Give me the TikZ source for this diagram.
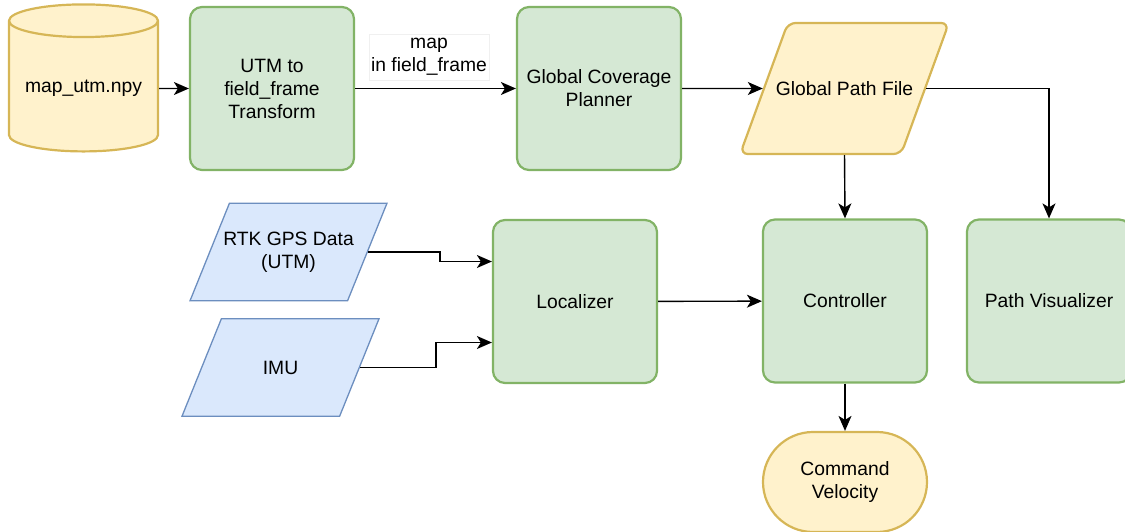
\documentclass[tikz,border=0pt]{standalone}
\usepackage{fontspec}
\setmainfont{Liberation Sans}
\usetikzlibrary{shapes,arrows.meta,positioning,calc}

\definecolor{procfill}{HTML}{D5E8D4}
\definecolor{procline}{HTML}{82B366}
\definecolor{filefill}{HTML}{FFF2CC}
\definecolor{fileline}{HTML}{D6B656}
\definecolor{datafill}{HTML}{DAE8FC}
\definecolor{dataline}{HTML}{6C8EBF}

\tikzset{
  lbl/.style={font=\fontsize{19.3}{23}\selectfont, align=center, inner sep=2pt},
  proc/.style={lbl, draw=procline, fill=procfill, line width=2.2pt,
    rounded corners=12pt, minimum width=164pt, minimum height=163pt},
  % slanted boxes: height comes from inner ysep so the angles hold
  sensor/.style={lbl, draw=dataline, fill=datafill, line width=1.3pt,
    trapezium, trapezium stretches body=true, trapezium left angle=68,
    trapezium right angle=112, minimum width=197pt},
  flow/.style={-{Stealth[length=15pt,width=13pt,inset=4pt]}, line width=1.4pt},
}

\begin{document}
\begin{tikzpicture}[x=1pt,y=-1pt]
  \useasboundingbox (0,0) rectangle (1125,532);

  % top row
  \node[lbl, draw=fileline, fill=filefill, line width=2.2pt, cylinder,
    shape border rotate=90, aspect=0.27, minimum width=149pt,
    minimum height=147pt] (maputm) at (83.5,88.5) {map\_utm.npy};
  \node[proc] (utmtf) at (272,88.5) {UTM to\\field\_frame\\Transform};
  \node[proc] (planner) at (599,88.5) {Global Coverage\\Planner};
  \node[lbl, draw=fileline, fill=filefill, line width=2.2pt, rounded corners=8pt,
    trapezium, trapezium stretches body=true, trapezium left angle=70,
    trapezium right angle=110, minimum width=208pt, inner ysep=58.5pt,
    inner xsep=-12pt] (pathfile) at (844.5,88.5) {Global Path File};
  \node[lbl, fill=white, draw=black!6, line width=0.6pt, minimum width=118pt,
    minimum height=46pt] (maplbl) at (429,57) {map\\in field\_frame};

  % sensors and nodes
  \node[sensor, inner ysep=28.6pt, inner xsep=-6.6pt] (gps) at (288.5,252)
    {RTK GPS Data\\(UTM)};
  \node[sensor, inner ysep=42pt] (imu) at (280.5,367.5) {IMU};
  \node[proc] (loc) at (575,301.5) {Localizer};
  \node[proc] (ctrl) at (845,301) {Controller};
  \node[proc] (viz) at (1049,301) {Path Visualizer};
  \node[lbl, draw=fileline, fill=filefill, line width=2.2pt, rounded corners=50pt,
    minimum width=164pt, minimum height=100pt] (cmdvel) at (845,482)
    {Command\\Velocity};

  \draw[flow] (maputm) -- (utmtf);
  \draw[flow] (utmtf) -- (planner);
  \draw[flow] (planner) -- (pathfile);
  \draw[flow] (pathfile.south) -- (ctrl.north);
  \draw[flow] (pathfile.east) -| (viz.north);
  \draw[flow] (gps.east) -- ++(72,0) |- ([yshift=40pt]loc.west);
  \draw[flow] (imu.east) -- ++(76,0) |- ([yshift=-41pt]loc.west);
  \draw[flow] (loc) -- (ctrl);
  \draw[flow] (ctrl) -- (cmdvel);
\end{tikzpicture}
\end{document}
